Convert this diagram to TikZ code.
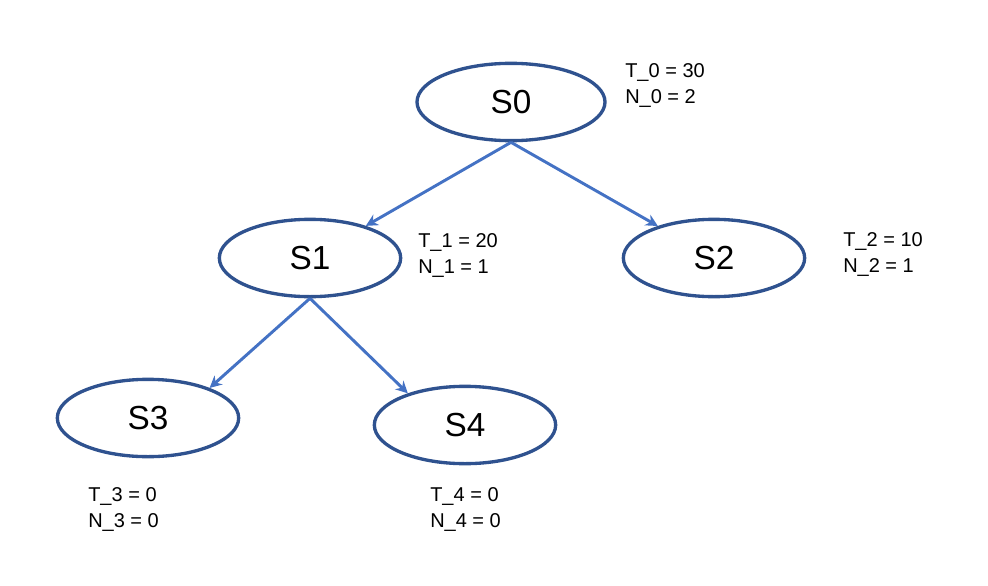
\documentclass[tikz,border=0pt]{standalone}
\usepackage{fontspec}
\setmainfont{Liberation Sans}
\usetikzlibrary{shapes.geometric,arrows.meta}
\definecolor{ringblue}{HTML}{2F528F}
\definecolor{arrowblue}{HTML}{4472C4}
\begin{document}
\begin{tikzpicture}[x=0.75pt,y=-0.75pt,
  state/.style={ellipse,draw=ringblue,line width=2.5pt,minimum width=136pt,minimum height=58pt,inner sep=0pt,font=\fontsize{25}{29}\selectfont},
  edge/.style={draw=arrowblue,line width=2.2pt,-{Stealth[length=9pt,width=9pt]}},
  info/.style={anchor=north west,inner sep=0pt,align=left,font=\fontsize{15}{19.5}\selectfont}]
\useasboundingbox (0,0) rectangle (988,585);
\node[state,minimum width=141pt] (S0) at (511,102) {S0};
\node[state] (S1) at (310,258) {S1};
\node[state] (S2) at (714,258) {S2};
\node[state] (S3) at (148,418) {S3};
\node[state] (S4) at (465,425) {S4};
\draw[edge] (S0.south) -- (S1);
\draw[edge] (S0.south) -- (S2);
\draw[edge] (S1.south) -- (S3.26);
\draw[edge] (S1.south) -- (S4.151);
\node[info] (L0) at (625,63) {T\_0 = 30\\N\_0 = 2};
\node[info] (L1) at (418,233) {T\_1 = 20\\N\_1 = 1};
\node[info] (L2) at (843,232) {T\_2 = 10\\N\_2 = 1};
\node[info] (L3) at (88,487) {T\_3 = 0\\N\_3 = 0};
\node[info] (L4) at (430,487) {T\_4 = 0\\N\_4 = 0};
\end{tikzpicture}
\end{document}
